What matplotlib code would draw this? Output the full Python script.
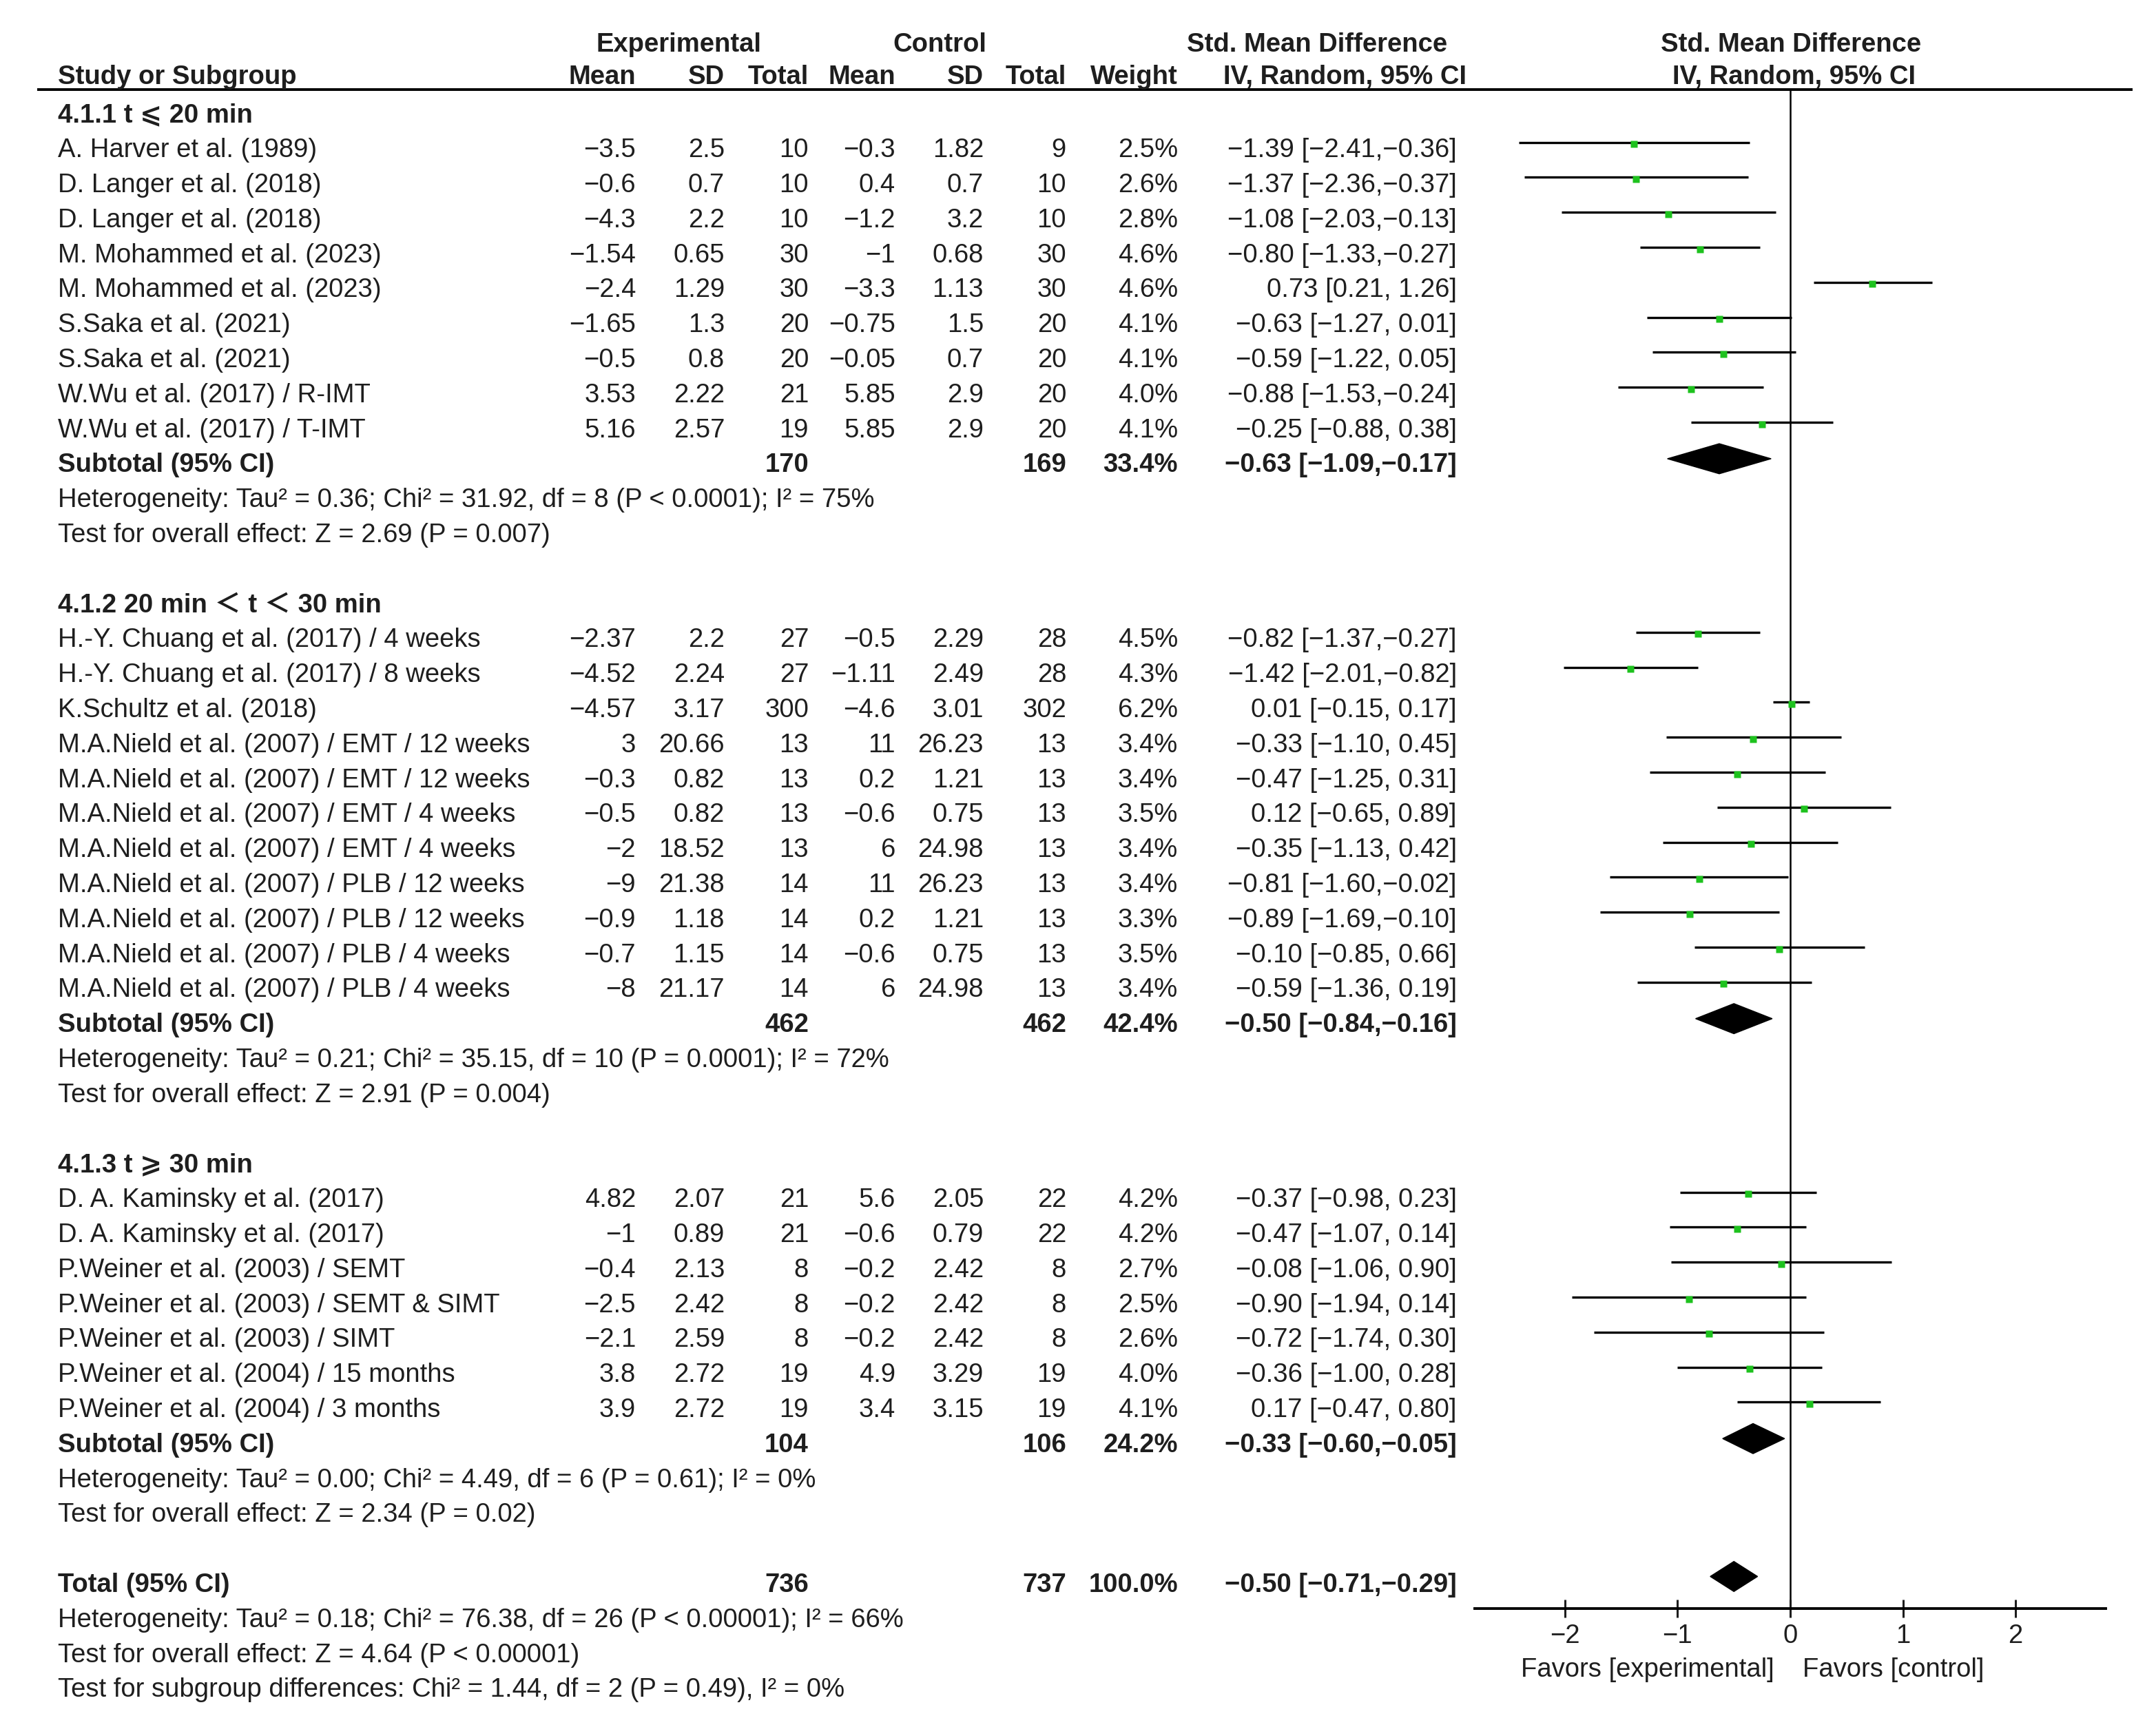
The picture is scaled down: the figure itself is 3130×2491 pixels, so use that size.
import matplotlib.pyplot as plt
from matplotlib.patches import Polygon

plt.rcParams['font.family'] = ['Liberation Sans', 'DejaVu Sans', 'Noto Sans CJK SC']

# ---- data ----
group_labels = ['4.1.1 t ⩽ 20 min', '4.1.2 20 min ＜ t ＜ 30 min', '4.1.3 t ⩾ 30 min']
group_sizes = [9, 11, 7]

studies = [
    'A. Harver et al. (1989)', 'D. Langer et al. (2018)', 'D. Langer et al. (2018)',
    'M. Mohammed et al. (2023)', 'M. Mohammed et al. (2023)', 'S.Saka et al. (2021)',
    'S.Saka et al. (2021)', 'W.Wu et al. (2017) / R-IMT', 'W.Wu et al. (2017) / T-IMT',
    'H.-Y. Chuang et al. (2017) / 4 weeks', 'H.-Y. Chuang et al. (2017) / 8 weeks',
    'K.Schultz et al. (2018)', 'M.A.Nield et al. (2007) / EMT / 12 weeks',
    'M.A.Nield et al. (2007) / EMT / 12 weeks', 'M.A.Nield et al. (2007) / EMT / 4 weeks',
    'M.A.Nield et al. (2007) / EMT / 4 weeks', 'M.A.Nield et al. (2007) / PLB / 12 weeks',
    'M.A.Nield et al. (2007) / PLB / 12 weeks', 'M.A.Nield et al. (2007) / PLB / 4 weeks',
    'M.A.Nield et al. (2007) / PLB / 4 weeks',
    'D. A. Kaminsky et al. (2017)', 'D. A. Kaminsky et al. (2017)', 'P.Weiner et al. (2003) / SEMT',
    'P.Weiner et al. (2003) / SEMT & SIMT', 'P.Weiner et al. (2003) / SIMT',
    'P.Weiner et al. (2004) / 15 months', 'P.Weiner et al. (2004) / 3 months',
]
exp_mean = [-3.5, -0.6, -4.3, -1.54, -2.4, -1.65, -0.5, 3.53, 5.16,
            -2.37, -4.52, -4.57, 3, -0.3, -0.5, -2, -9, -0.9, -0.7, -8,
            4.82, -1, -0.4, -2.5, -2.1, 3.8, 3.9]
exp_sd = [2.5, 0.7, 2.2, 0.65, 1.29, 1.3, 0.8, 2.22, 2.57,
          2.2, 2.24, 3.17, 20.66, 0.82, 0.82, 18.52, 21.38, 1.18, 1.15, 21.17,
          2.07, 0.89, 2.13, 2.42, 2.59, 2.72, 2.72]
exp_n = [10, 10, 10, 30, 30, 20, 20, 21, 19,
         27, 27, 300, 13, 13, 13, 13, 14, 14, 14, 14,
         21, 21, 8, 8, 8, 19, 19]
ctl_mean = [-0.3, 0.4, -1.2, -1, -3.3, -0.75, -0.05, 5.85, 5.85,
            -0.5, -1.11, -4.6, 11, 0.2, -0.6, 6, 11, 0.2, -0.6, 6,
            5.6, -0.6, -0.2, -0.2, -0.2, 4.9, 3.4]
ctl_sd = [1.82, 0.7, 3.2, 0.68, 1.13, 1.5, 0.7, 2.9, 2.9,
          2.29, 2.49, 3.01, 26.23, 1.21, 0.75, 24.98, 26.23, 1.21, 0.75, 24.98,
          2.05, 0.79, 2.42, 2.42, 2.42, 3.29, 3.15]
ctl_n = [9, 10, 10, 30, 30, 20, 20, 20, 20,
         28, 28, 302, 13, 13, 13, 13, 13, 13, 13, 13,
         22, 22, 8, 8, 8, 19, 19]
weight = [2.5, 2.6, 2.8, 4.6, 4.6, 4.1, 4.1, 4.0, 4.1,
          4.5, 4.3, 6.2, 3.4, 3.4, 3.5, 3.4, 3.4, 3.3, 3.5, 3.4,
          4.2, 4.2, 2.7, 2.5, 2.6, 4.0, 4.1]
smd = [-1.39, -1.37, -1.08, -0.80, 0.73, -0.63, -0.59, -0.88, -0.25,
       -0.82, -1.42, 0.01, -0.33, -0.47, 0.12, -0.35, -0.81, -0.89, -0.10, -0.59,
       -0.37, -0.47, -0.08, -0.90, -0.72, -0.36, 0.17]
ci_lo = [-2.41, -2.36, -2.03, -1.33, 0.21, -1.27, -1.22, -1.53, -0.88,
         -1.37, -2.01, -0.15, -1.10, -1.25, -0.65, -1.13, -1.60, -1.69, -0.85, -1.36,
         -0.98, -1.07, -1.06, -1.94, -1.74, -1.00, -0.47]
ci_hi = [-0.36, -0.37, -0.13, -0.27, 1.26, 0.01, 0.05, -0.24, 0.38,
         -0.27, -0.82, 0.17, 0.45, 0.31, 0.89, 0.42, -0.02, -0.10, 0.66, 0.19,
         0.23, 0.14, 0.90, 0.14, 0.30, 0.28, 0.80]

sub_exp_n = [170, 462, 104]
sub_ctl_n = [169, 462, 106]
sub_weight = [33.4, 42.4, 24.2]
sub_smd = [-0.63, -0.50, -0.33]
sub_lo = [-1.09, -0.84, -0.60]
sub_hi = [-0.17, -0.16, -0.05]
sub_het = ['Heterogeneity: Tau² = 0.36; Chi² = 31.92, df = 8 (P < 0.0001); I² = 75%',
           'Heterogeneity: Tau² = 0.21; Chi² = 35.15, df = 10 (P = 0.0001); I² = 72%',
           'Heterogeneity: Tau² = 0.00; Chi² = 4.49, df = 6 (P = 0.61); I² = 0%']
sub_test = ['Test for overall effect: Z = 2.69 (P = 0.007)',
            'Test for overall effect: Z = 2.91 (P = 0.004)',
            'Test for overall effect: Z = 2.34 (P = 0.02)']

total_exp_n, total_ctl_n, total_weight = 736, 737, 100.0
total_smd, total_lo, total_hi = -0.50, -0.71, -0.29
total_notes = ['Heterogeneity: Tau² = 0.18; Chi² = 76.38, df = 26 (P < 0.00001); I² = 66%',
               'Test for overall effect: Z = 4.64 (P < 0.00001)',
               'Test for subgroup differences: Chi² = 1.44, df = 2 (P = 0.49), I² = 0%']

xticks = [-2, -1, 0, 1, 2]

# ---- layout ----
W, H = 3130, 2491
ROW0, PITCH = 164, 50.8
FS = 27.5
TXT = '#1e1e1e'
GREEN = '#1ec21e'


def px2row(y):
    return (y - ROW0) / PITCH


def num(v):
    return f'{v:g}'.replace('-', '−')


def ci_text(m, lo, hi):
    sep = ', ' if hi >= 0 else ','
    return f'{m:.2f} [{lo:.2f}{sep}{hi:.2f}]'.replace('-', '−')


fig = plt.figure(figsize=(W / 100, H / 100), dpi=100)
tab = fig.add_axes([0, 0, 1, 1])
tab.set_xlim(0, W)
tab.set_ylim(px2row(H), px2row(0))
tab.axis('off')

ax_top, ax_bot = 130, 2335
ax = fig.add_axes([2141 / W, 1 - ax_bot / H, (3057 - 2141) / W, (ax_bot - ax_top) / H])
ax.set_xlim(-2.8, 2.8)
ax.set_ylim(px2row(ax_bot), px2row(ax_top))
ax.patch.set_alpha(0)
for s in ['top', 'right', 'left']:
    ax.spines[s].set_visible(False)
ax.spines['bottom'].set_linewidth(2.8)
ax.set_yticks([])
ax.set_xticks(xticks)
ax.tick_params(axis='x', direction='inout', length=19, width=2.2, pad=6,
               labelsize=FS, colors=TXT)
ax.axvline(0, color='black', lw=1.8, zorder=1)

BASE = 0.265
col_x = [923, 1052, 1174, 1300, 1428, 1548, 1710, 2115]
NAME_X = 84


def put(x, r, s, ha='right', bold=False):
    tab.text(x, r + BASE, s, ha=ha, va='baseline', fontsize=FS,
             fontweight='bold' if bold else 'normal', color=TXT)


# headers
h1 = px2row(75) - BASE
h2 = px2row(122) - BASE
put(986, h1, 'Experimental', ha='center', bold=True)
put(1364, h1, 'Control', ha='center', bold=True)
put(1912, h1, 'Std. Mean Difference', ha='center', bold=True)
put(2600, h1, 'Std. Mean Difference', ha='center', bold=True)
put(NAME_X, h2, 'Study or Subgroup', ha='left', bold=True)
for x, lab in zip(col_x[:7], ['Mean', 'SD', 'Total', 'Mean', 'SD', 'Total', 'Weight']):
    put(x, h2, lab, bold=True)
put(1952, h2, 'IV, Random, 95% CI', ha='center', bold=True)
put(2604, h2, 'IV, Random, 95% CI', ha='center', bold=True)
tab.hlines(px2row(ax_top), 54, 3096, color='black', lw=2.8)

MK_OFF = -0.16
DIA_H = 0.43

r = 0
i = 0
for g in range(len(group_labels)):
    put(NAME_X, r, group_labels[g], ha='left', bold=True)
    r += 1
    for _ in range(group_sizes[g]):
        put(NAME_X, r, studies[i], ha='left')
        vals = [num(exp_mean[i]), num(exp_sd[i]), str(exp_n[i]),
                num(ctl_mean[i]), num(ctl_sd[i]), str(ctl_n[i]),
                f'{weight[i]:.1f}%', ci_text(smd[i], ci_lo[i], ci_hi[i])]
        for x, v in zip(col_x, vals):
            put(x, r, v)
        ax.hlines(r + MK_OFF, ci_lo[i], ci_hi[i], color='black', lw=2.4, zorder=2)
        ax.plot(smd[i], r + MK_OFF + 0.05, marker='s', ms=6.5, color=GREEN, mec='none', zorder=3)
        r += 1
        i += 1
    put(NAME_X, r, 'Subtotal (95% CI)', ha='left', bold=True)
    put(col_x[2], r, str(sub_exp_n[g]), bold=True)
    put(col_x[5], r, str(sub_ctl_n[g]), bold=True)
    put(col_x[6], r, f'{sub_weight[g]:.1f}%', bold=True)
    put(col_x[7], r, ci_text(sub_smd[g], sub_lo[g], sub_hi[g]), bold=True)
    y = r - 0.12
    ax.add_patch(Polygon([(sub_lo[g], y), (sub_smd[g], y - DIA_H), (sub_hi[g], y), (sub_smd[g], y + DIA_H)],
                         closed=True, fc='black', ec='black', lw=1, zorder=3))
    put(NAME_X, r + 1, sub_het[g], ha='left')
    put(NAME_X, r + 2, sub_test[g], ha='left')
    r += 4

put(NAME_X, r, 'Total (95% CI)', ha='left', bold=True)
put(col_x[2], r, str(total_exp_n), bold=True)
put(col_x[5], r, str(total_ctl_n), bold=True)
put(col_x[6], r, f'{total_weight:.1f}%', bold=True)
put(col_x[7], r, ci_text(total_smd, total_lo, total_hi), bold=True)
y = r - 0.18
ax.add_patch(Polygon([(total_lo, y), (total_smd, y - DIA_H), (total_hi, y), (total_smd, y + DIA_H)],
                     closed=True, fc='black', ec='black', lw=1, zorder=3))
for k, note in enumerate(total_notes):
    put(NAME_X, r + 1 + k, note, ha='left')

# favours labels
ax.annotate('Favors [experimental]', xy=(-0.14, 0), xycoords=('data', 'axes fraction'),
            xytext=(0, -64), textcoords='offset points', ha='right', va='center',
            fontsize=FS, color=TXT)
ax.annotate('Favors [control]', xy=(0.11, 0), xycoords=('data', 'axes fraction'),
            xytext=(0, -64), textcoords='offset points', ha='left', va='center',
            fontsize=FS, color=TXT)

fig.savefig('out.png', dpi=100, facecolor='white')
